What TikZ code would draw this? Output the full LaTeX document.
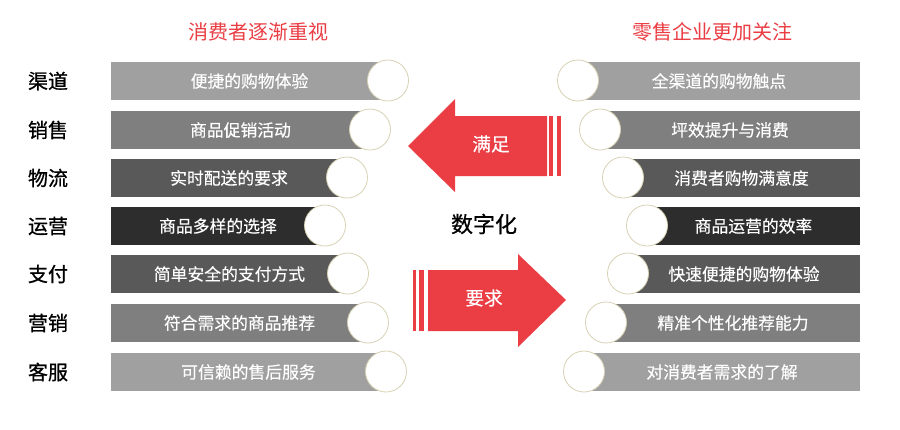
\documentclass[tikz,border=0pt]{standalone}
\usepackage{fontspec}
\setmainfont{Noto Sans CJK SC}
\newfontfamily\medfont{Noto Sans CJK SC}[FakeBold=0.8]
\newfontfamily\semifont{Noto Sans CJK SC}[FakeBold=0.3]
\definecolor{accent}{RGB}{234,62,68}
\definecolor{gA}{HTML}{A0A0A0}
\definecolor{gB}{HTML}{7F7F7F}
\definecolor{gC}{HTML}{595959}
\definecolor{gD}{HTML}{2D2D2D}
\definecolor{ring}{HTML}{D8D1B4}
\begin{document}
\begin{tikzpicture}[x=0.75pt,y=-0.75pt,
  bartext/.style={text=white,inner sep=0pt,font=\semifont\fontsize{12.6pt}{15pt}\selectfont},
  rowlabel/.style={text=black,inner sep=0pt,font=\medfont\fontsize{15pt}{18pt}\selectfont},
  title/.style={text=accent,inner sep=0pt,font=\fontsize{15pt}{18pt}\selectfont},
  knob/.style={fill=white,draw=ring,line width=0.6pt},
  arrowtext/.style={text=white,inner sep=0pt,font=\semifont\fontsize{14pt}{17pt}\selectfont}]
\useasboundingbox (0,0) rectangle (900,429);
\fill[white] (0,0) rectangle (900,429);
% titles
\node[title] (tl) at (258,32) {消费者逐渐重视};
\node[title] (tr) at (712,32) {零售企业更加关注};
% left rows
\foreach \cy/\cx/\col/\lab/\txt [count=\i] in {
  81/388/gA/渠道/便捷的购物体验,
  130/370/gB/销售/商品促销活动,
  178/347/gC/物流/实时配送的要求,
  226/325/gD/运营/商品多样的选择,
  274/348/gC/支付/简单安全的支付方式,
  323/368/gB/营销/符合需求的商品推荐,
  372/386/gA/客服/可信赖的售后服务}{
  \fill[\col] (111,\cy-19) rectangle (\cx+4,\cy+19);
  \draw[knob] (\cx,\cy-0.5) circle[radius=20.5];
  \node[bartext] (lb\i) at ({(111+\cx)/2},\cy) {\txt};
  \node[rowlabel] (lab\i) at (48,\cy) {\lab};
}
% right rows
\foreach \cy/\cx/\col/\txt [count=\i] in {
  81/578/gA/全渠道的购物触点,
  130/600/gB/坪效提升与消费,
  178/623/gC/消费者购物满意度,
  226/647/gD/商品运营的效率,
  274/628/gC/快速便捷的购物体验,
  323/606/gB/精准个性化推荐能力,
  372/584/gA/对消费者需求的了解}{
  \fill[\col] (\cx-4,\cy-19) rectangle (860,\cy+19);
  \draw[knob] (\cx,\cy-0.5) circle[radius=20.5];
  \node[bartext] (rb\i) at ({(860+\cx)/2},\cy) {\txt};
}
% left arrow (满足)
\fill[accent] (408,146) -- (455,99) -- (455,116) -- (547,116) -- (547,176)
  -- (455,176) -- (455,192) -- cycle;
\fill[accent] (549,116) rectangle (553,176);
\fill[accent] (557,116) rectangle (561,176);
\node[arrowtext] (man) at (491,144) {满足};
% right arrow (要求)
\fill[accent] (566,300) -- (518,254) -- (518,270) -- (428,270) -- (428,331)
  -- (518,331) -- (518,347) -- cycle;
\fill[accent] (419,270) rectangle (424,331);
\fill[accent] (413,270) rectangle (416,331);
\node[arrowtext] (yao) at (484,298) {要求};
% centre
\node[text=black,inner sep=0pt,font=\medfont\fontsize{16.5pt}{20pt}\selectfont] (shu) at (484,224) {数字化};
\end{tikzpicture}
\end{document}
